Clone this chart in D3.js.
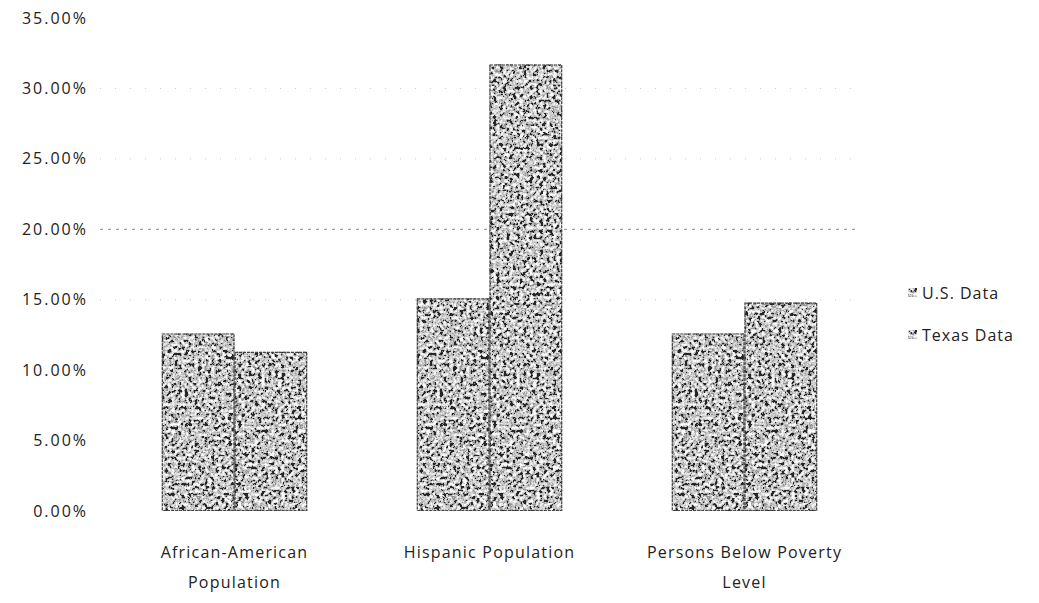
<!DOCTYPE html>
<html>
<head>
<meta charset="utf-8">
<script src="https://cdn.jsdelivr.net/npm/d3@7"></script>
<style>
  body { margin: 0; background: #fff; }
  text { font-family: "Open Sans", sans-serif; fill: #222; }
</style>
</head>
<body>
<div class="chart"></div>
<script>
// values
const categories = [["African-American", "Population"], ["Hispanic Population"], ["Persons Below Poverty", "Level"]];
const seriesNames = ["U.S. Data", "Texas Data"];
const usData = [0.126, 0.151, 0.126];
const texasData = [0.113, 0.317, 0.148];
const yTicks = [0, 0.05, 0.10, 0.15, 0.20, 0.25, 0.30, 0.35];

const width = 1039;
const height = 603;

const svg = d3.select('.chart')
  .append('svg')
  .attr('width', width)
  .attr('height', height);

// grainy scanned look for the bars
const defs = svg.append('defs');
const f = defs.append('filter').attr('id', 'grain')
  .attr('x', 0).attr('y', 0).attr('width', 1).attr('height', 1)
  .attr('filterUnits', 'objectBoundingBox');
f.append('feTurbulence')
  .attr('type', 'fractalNoise')
  .attr('baseFrequency', 0.3)
  .attr('numOctaves', 3)
  .attr('seed', 7)
  .attr('result', 'noise');
f.append('feColorMatrix')
  .attr('in', 'noise')
  .attr('type', 'matrix')
  .attr('values', '0.33 0.33 0.33 0 0  0.33 0.33 0.33 0 0  0.33 0.33 0.33 0 0  0 0 0 0 1')
  .attr('result', 'gray');
const ct = f.append('feComponentTransfer').attr('in', 'gray').attr('result', 'contrast');
['feFuncR', 'feFuncG', 'feFuncB'].forEach(c => {
  ct.append(c).attr('type', 'linear').attr('slope', 4.5).attr('intercept', -1.75);
});
const ct2 = f.append('feComponentTransfer').attr('in', 'contrast').attr('result', 'speck');
['feFuncR', 'feFuncG', 'feFuncB'].forEach(c => {
  ct2.append(c).attr('type', 'discrete').attr('tableValues', '0.02 0.3 0.5 0.65 0.8 0.95');
});
f.append('feComposite')
  .attr('in', 'speck')
  .attr('in2', 'SourceGraphic')
  .attr('operator', 'in');

const y = d3.scaleLinear()
  .domain([0, 0.35])
  .range([511, 18]);

const x0 = d3.scaleBand()
  .domain(d3.range(categories.length))
  .range([107, 872])
  .paddingInner(0.43)
  .paddingOuter(0.215);

const x1 = d3.scaleBand()
  .domain(d3.range(seriesNames.length))
  .range([0, x0.bandwidth()]);

// gridlines (faint, dotted as in the scan)
svg.selectAll('line.grid')
  .data(yTicks.filter(d => d > 0.10 && d < 0.35))
  .enter()
  .append('line')
  .attr('class', 'grid')
  .attr('x1', 100)
  .attr('x2', 857)
  .attr('y1', d => y(d))
  .attr('y2', d => y(d))
  .attr('stroke', d => d === 0.20 ? '#888' : '#c8c8c8')
  .attr('stroke-width', 1)
  .attr('stroke-dasharray', d => d === 0.20 ? '3,5' : '1,14');

// y tick labels
svg.selectAll('text.ytick')
  .data(yTicks)
  .enter()
  .append('text')
  .attr('class', 'ytick')
  .attr('x', 88)
  .attr('y', d => y(d))
  .attr('dy', '0.35em')
  .attr('text-anchor', 'end')
  .attr('font-size', 16)
  .attr('letter-spacing', 2)
  .attr('fill', '#333')
  .text(d => d3.format('.2%')(d));

// bars
const rows = categories.map((c, i) => [usData[i], texasData[i]]);
const groups = svg.selectAll('g.cat')
  .data(rows)
  .enter()
  .append('g')
  .attr('class', 'cat')
  .attr('transform', (d, i) => `translate(${x0(i)},0)`);

groups.selectAll('rect.bar')
  .data(d => d)
  .enter()
  .append('rect')
  .attr('class', 'bar')
  .attr('x', (d, j) => x1(j))
  .attr('y', d => y(d))
  .attr('width', x1.bandwidth())
  .attr('height', d => y(0) - y(d))
  .attr('fill', '#999')
  .attr('filter', 'url(#grain)');

groups.selectAll('rect.edge')
  .data(d => d)
  .enter()
  .append('rect')
  .attr('class', 'edge')
  .attr('x', (d, j) => x1(j) + 0.5)
  .attr('y', d => y(d) + 0.5)
  .attr('width', x1.bandwidth() - 1)
  .attr('height', d => y(0) - y(d) - 1)
  .attr('fill', 'none')
  .attr('stroke', '#444')
  .attr('stroke-width', 1.2)
  .attr('stroke-dasharray', '3,1');

// category labels
const catLabels = svg.selectAll('text.cat')
  .data(categories)
  .enter()
  .append('text')
  .attr('class', 'cat')
  .attr('text-anchor', 'middle')
  .attr('font-size', 16)
  .attr('letter-spacing', 1.2)
  .attr('transform', (d, i) => `translate(${x0(i) + x0.bandwidth() / 2},558)`);

catLabels.selectAll('tspan')
  .data(d => d)
  .enter()
  .append('tspan')
  .attr('x', 0)
  .attr('dy', (d, k) => k === 0 ? 0 : 30)
  .text(d => d);

// legend
const legend = svg.selectAll('g.legend')
  .data(seriesNames)
  .enter()
  .append('g')
  .attr('class', 'legend')
  .attr('transform', (d, i) => `translate(908,${293 + i * 42})`);

legend.append('rect')
  .attr('x', 0)
  .attr('y', -5)
  .attr('width', 9)
  .attr('height', 9)
  .attr('fill', '#999')
  .attr('filter', 'url(#grain)');

legend.append('text')
  .attr('x', 14)
  .attr('dy', '0.35em')
  .attr('font-size', 16)
  .attr('letter-spacing', 1)
  .text(d => d);
</script>
</body>
</html>
